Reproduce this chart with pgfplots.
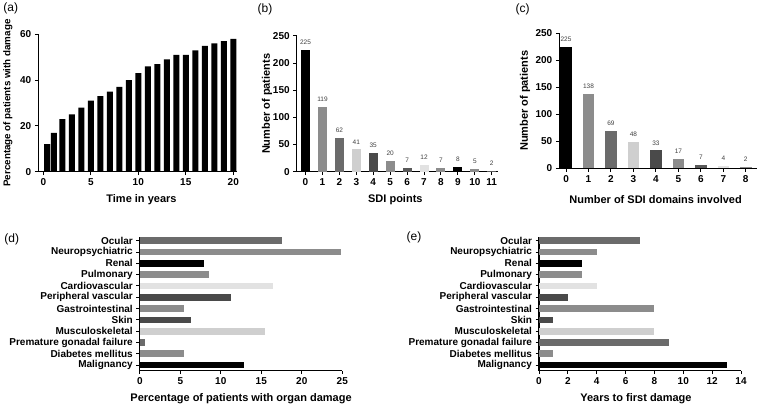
\documentclass[border=0pt]{standalone}
\usepackage{pgfplots}
\pgfplotsset{compat=1.18}
\usepackage{fontspec}
\setmainfont{Liberation Sans}
\definecolor{gK}{HTML}{000000}
\definecolor{gM}{HTML}{8C8C8C}
\definecolor{gD}{HTML}{6B6B6B}
\definecolor{gL}{HTML}{CFCFCF}
\definecolor{gX}{HTML}{4A4A4A}
\definecolor{gY}{HTML}{595959}
\definecolor{gW}{HTML}{E2E2E2}
\pgfplotsset{
 gp/.style={
  scale only axis,
  anchor=south west,
  axis x line=bottom, axis y line=left,
  axis line style={-, line width=1.1pt, black},
  tick style={line width=1pt, black},
  major tick length=3.5pt,
  tick align=outside,
  /pgf/number format/assume math mode=true,
  tick label style={font=\fontsize{10}{12}\selectfont\bfseries},
  label style={font=\fontsize{11}{13}\selectfont\bfseries},
  clip=false,
 },
}
\newcommand{\vb}[3]{\addplot[fill=#1,draw=none,bar shift=0pt] coordinates {(#2,#3)};}
\newcommand{\hb}[3]{\addplot[fill=#1,draw=none,bar shift=0pt] coordinates {(#3,#2)};}
\begin{document}
\begin{tikzpicture}
\useasboundingbox (0,0) rectangle (760pt,409pt);
% (a)
\begin{axis}[gp, at={(38.3pt,237.3pt)}, width=198.4pt, height=137.4pt,
  xmin=-0.53, xmax=20.36, ymin=0, ymax=60,
  xtick={0,5,10,15,20}, ytick={0,20,40,60},
  xlabel={Time in years}, ylabel={Percentage of patients with damage},
  xlabel style={at={(axis description cs:0.52,-0.206)}, anchor=center},
  ylabel style={at={(axis description cs:-0.153,0.5)}, anchor=center, font=\fontsize{9.8}{11}\selectfont\bfseries},
  ]
\addplot[ybar, bar width=6pt, fill=black, draw=none] coordinates {
(0.4,12) (1.12,17) (2,23) (3,25) (4,28) (5,31) (6,33) (7,35) (8,37) (9,40) (10,43)
(11,46) (12,47) (13,49) (14,51) (15,51) (16,53) (17,55) (18,56) (19,57) (20,58)};
\end{axis}
% (b)
\begin{axis}[gp, at={(296.7pt,237.3pt)}, width=201.3pt, height=135.7pt,
  ybar, bar width=9pt, bar shift=0pt,
  xmin=-0.52, xmax=11.37, ymin=0, ymax=250,
  xtick={0,...,11}, ytick={0,50,100,150,200,250},
  xlabel={SDI points}, ylabel={Number of patients},
  xlabel style={at={(axis description cs:0.49,-0.209)}, anchor=center},
  ylabel style={at={(axis description cs:-0.148,0.5)}, anchor=center},
  nodes near coords,
  every node near coord/.append style={font=\fontsize{6.5}{7}\selectfont, text=black!75, yshift=1.8pt},
  ]
\vb{gK}{0}{225}\vb{gM}{1}{119}\vb{gD}{2}{62}\vb{gL}{3}{41}\vb{gX}{4}{35}\vb{gM}{5}{20}
\vb{gY}{6}{7}\vb{gW}{7}{12}\vb{gM}{8}{7}\vb{gK}{9}{8}\vb{gM}{10}{5}\vb{gY}{11}{2}
\end{axis}
% (c)
\begin{axis}[gp, at={(559.3pt,240.7pt)}, width=197.7pt, height=135pt,
  ybar, bar width=11.5pt, bar shift=0pt,
  xmin=-0.3, xmax=8.5, ymin=0, ymax=250,
  xtick={0,...,8}, ytick={0,50,100,150,200,250},
  xlabel={Number of SDI domains involved}, ylabel={Number of patients},
  xlabel style={at={(axis description cs:0.487,-0.235)}, anchor=center},
  ylabel style={at={(axis description cs:-0.174,0.5)}, anchor=center},
  nodes near coords,
  every node near coord/.append style={font=\fontsize{6.5}{7}\selectfont, text=black!75, yshift=1.8pt},
  ]
\vb{gK}{0}{225}\vb{gM}{1}{138}\vb{gD}{2}{69}\vb{gL}{3}{48}\vb{gX}{4}{33}\vb{gM}{5}{17}
\vb{gY}{6}{7}\vb{gW}{7}{4}\vb{gM}{8}{2}
\end{axis}
% (d)
\begin{axis}[gp, at={(139.8pt,38.3pt)}, width=202.5pt, height=134pt,
  xbar, bar width=6.7pt, bar shift=0pt,
  xmin=0, xmax=25, ymin=0.5, ymax=12.36,
  xtick={0,5,10,15,20,25}, ytick={1,...,12},
  yticklabels={Malignancy,Diabetes mellitus,Premature gonadal failure,Musculoskeletal,Skin,Gastrointestinal,Peripheral vascular,Cardiovascular,Pulmonary,Renal,Neuropsychiatric,Ocular},
  xlabel={Percentage of patients with organ damage},
  xlabel style={at={(axis description cs:0.5,-0.21)}, anchor=center},
  ]
\hb{gD}{12}{17.5}\hb{gM}{11}{24.9}\hb{gK}{10}{7.9}\hb{gM}{9}{8.5}\hb{gW}{8}{16.4}
\hb{gX}{7}{11.2}\hb{gM}{6}{5.5}\hb{gX}{5}{6.3}\hb{gL}{4}{15.5}\hb{gD}{3}{0.7}
\hb{gM}{2}{5.5}\hb{gK}{1}{12.9}
\end{axis}
% (e)
\begin{axis}[gp, at={(539pt,38.3pt)}, width=202pt, height=134pt,
  xbar, bar width=6.7pt, bar shift=0pt,
  xmin=0, xmax=14, ymin=0.5, ymax=12.36,
  xtick={0,2,...,14}, ytick={1,...,12},
  yticklabels={Malignancy,Diabetes mellitus,Premature gonadal failure,Musculoskeletal,Skin,Gastrointestinal,Peripheral vascular,Cardiovascular,Pulmonary,Renal,Neuropsychiatric,Ocular},
  xlabel={Years to first damage},
  xlabel style={at={(axis description cs:0.48,-0.21)}, anchor=center},
  ]
\hb{gD}{12}{7}\hb{gM}{11}{4}\hb{gK}{10}{3}\hb{gM}{9}{3}\hb{gW}{8}{4}
\hb{gX}{7}{2}\hb{gM}{6}{8}\hb{gX}{5}{1}\hb{gL}{4}{8}\hb{gD}{3}{9}
\hb{gM}{2}{1}\hb{gK}{1}{13}
\end{axis}
\node[font=\fontsize{12}{14}\selectfont] at (10.8pt,401pt) {(a)};
\node[font=\fontsize{12}{14}\selectfont] at (265pt,400pt) {(b)};
\node[font=\fontsize{12}{14}\selectfont] at (522.5pt,400pt) {(c)};
\node[font=\fontsize{12}{14}\selectfont] at (11.7pt,170pt) {(d)};
\node[font=\fontsize{12}{14}\selectfont] at (414pt,171.5pt) {(e)};
\end{tikzpicture}
\end{document}
